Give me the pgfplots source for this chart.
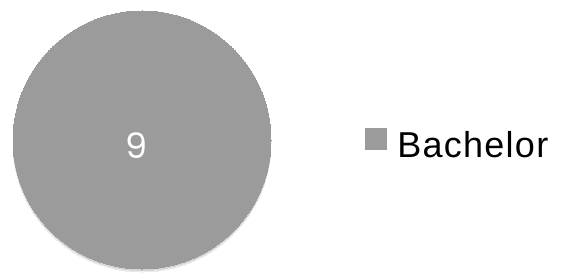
\documentclass[border=0pt]{standalone}
\usepackage{fontspec}
\setmainfont{Liberation Sans}
\newfontfamily\legfont[LetterSpace=3.5]{Liberation Sans}
\newfontfamily\ninefont{Poppins}
\usepackage{pgfplots}
\pgfplotsset{compat=1.18}
\definecolor{pieGray}{RGB}{155,155,155}
\begin{document}
\begin{tikzpicture}
\begin{axis}[
  width=562pt, height=279pt, scale only axis,
  xmin=0, xmax=562, ymin=0, ymax=279,
  axis line style={draw=none}, xtick=\empty, ytick=\empty, clip=false,
  legend style={draw=none, fill=none, at={(365/562,134/279)}, anchor=base west,
    font=\legfont\fontsize{36}{40}\selectfont, inner sep=0pt, outer sep=0pt,
    nodes={inner sep=0pt, outer sep=0pt}, column sep=0pt},
  legend cell align=left,
]
% soft shadow
\addplot[only marks, mark=*, mark size=129pt, mark options={fill=black!8, draw=black!8, line width=0pt}, forget plot] coordinates {(142,136)};
\addplot[only marks, mark=*, mark size=129pt, mark options={fill=black!16, draw=black!16, line width=0pt}, forget plot] coordinates {(142,137.5)};
% the single pie slice (value 9 = 100%)
\addplot[only marks, mark=*, mark size=129pt, mark options={fill=pieGray, draw=pieGray, line width=0pt},
  point meta=explicit symbolic, nodes near coords,
  every node near coord/.style={anchor=center, text=white, xshift=-5pt, yshift=-6pt,
    font=\ninefont\fontsize{35}{40}\selectfont},
  legend image code/.code={\fill[pieGray] (0pt,-4.5pt) rectangle (21pt,16.5pt); \path (32pt,0pt);}
] coordinates {(142,139) [9]};
\legend{Bachelor}
\end{axis}
\end{tikzpicture}
\end{document}
